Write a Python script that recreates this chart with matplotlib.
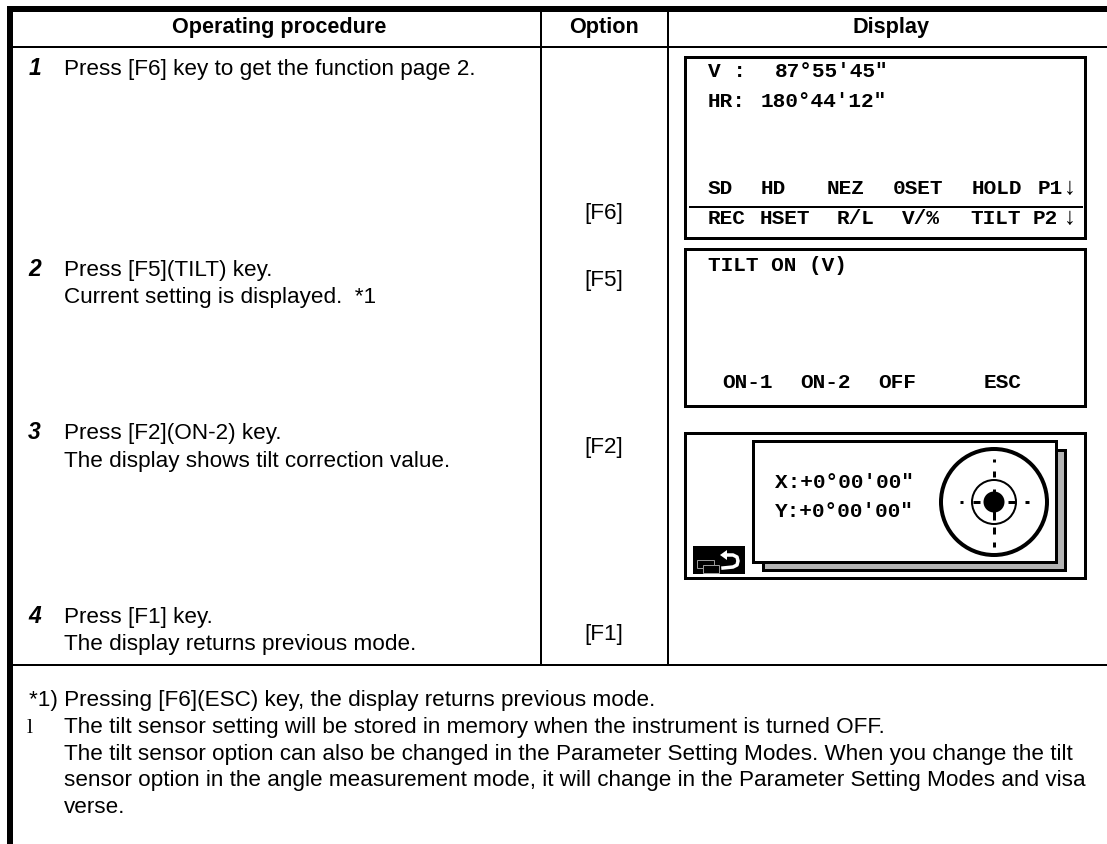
import matplotlib
matplotlib.use("Agg")
import matplotlib.pyplot as plt
from matplotlib.patches import Rectangle, Circle, Polygon

W, H = 1107, 844
SANS = "Liberation Sans"
MONO = "Liberation Mono"

headers = ["Operating procedure", "Option", "Display"]
header_x = [279, 604, 891]
step_numbers = ["1", "2", "3", "4"]
step_number_x = [29, 28, 28, 28]
step_number_y = [75, 276, 439, 623]
step_lines = [
    (64, 75, "Press [F6] key to get the function page 2."),
    (64, 276, "Press [F5](TILT) key."),
    (64, 303, "Current setting is displayed.  *1"),
    (64, 439, "Press [F2](ON-2) key."),
    (64, 467, "The display shows tilt correction value."),
    (64, 623, "Press [F1] key."),
    (64, 650, "The display returns previous mode."),
]
options = [(604, 219, "[F6]"), (604, 286, "[F5]"), (604, 453, "[F2]"), (604, 640, "[F1]")]
notes = [
    (29, 706, "*1) Pressing [F6](ESC) key, the display returns previous mode."),
    (64, 733, "The tilt sensor setting will be stored in memory when the instrument is turned OFF."),
    (64, 760, "The tilt sensor option can also be changed in the Parameter Setting Modes. When you change the tilt"),
    (64, 786, "sensor option in the angle measurement mode, it will change in the Parameter Setting Modes and visa"),
    (64, 813, "verse."),
]
screen_texts = [
    (708, 77, "V :"), (775, 77, "87°55'45\""),
    (708, 107, "HR:"), (761, 107, "180°44'12\""),
    (708, 194, "SD"), (761, 194, "HD"), (827, 194, "NEZ"), (893, 194, "0SET"), (972, 194, "HOLD"), (1038, 194, "P1"),
    (708, 224, "REC"), (760, 224, "HSET"), (837, 224, "R/L"), (902, 224, "V/%"), (970, 224, "TILT"), (1033, 224, "P2"),
    (708, 271, "TILT ON (V)"),
    (722, 388, "ON-1"), (800, 388, "ON-2"), (878, 388, "OFF"), (984, 388, "ESC"),
    (775, 488, "X:+0°00'00\""), (775, 517, "Y:+0°00'00\""),
]
arrow_texts = [(1070, 194, "↓"), (1070, 224, "↓")]
target_h_ticks = [(-34, -31), (-21, -14), (14, 21), (31, 35)]
target_v_ticks = [(-43, -40), (-31, -25), (-13, -7), (8, 18), (25, 32), (40, 45)]

fig = plt.figure(figsize=(W / 100, H / 100), dpi=100, facecolor="white")
ax = fig.add_axes([0, 0, 1, 1])
ax.set_xlim(0, W)
ax.set_ylim(H, 0)
ax.axis("off")


def rect(x0, y0, x1, y1, fc="none", ec="black", lw=0.0, z=2):
    ax.add_patch(Rectangle((x0, y0), x1 - x0, y1 - y0, facecolor=fc, edgecolor=ec, linewidth=lw, zorder=z))


def px(n):
    return n * 0.72


# table frame
rect(7, 6, 13, 844, fc="black")
rect(7, 6, 1107, 12, fc="black")
rect(13, 46, 1107, 48, fc="black")
rect(13, 664, 1107, 666, fc="black")
rect(540, 12, 542, 664, fc="black")
rect(667, 12, 669, 664, fc="black")

for x, t in zip(header_x, headers):
    ax.text(x, 33, t, family=SANS, fontsize=15.6, weight="bold", ha="center", va="baseline")
for x, y, t in zip(step_number_x, step_number_y, step_numbers):
    ax.text(x, y, t, family=SANS, fontsize=16.5, weight="bold", style="italic", ha="left", va="baseline")
for x, y, t in step_lines:
    ax.text(x, y, t, family=SANS, fontsize=16.2, ha="left", va="baseline")
for x, y, t in options:
    ax.text(x, y, t, family=SANS, fontsize=16.2, ha="center", va="baseline")
for x, y, t in notes:
    ax.text(x, y, t, family=SANS, fontsize=16.2, ha="left", va="baseline")
ax.text(27, 733, "l", family="Liberation Serif", fontsize=16, ha="left", va="baseline")

# screens
for y0, y1 in [(57, 238), (249, 406), (433, 578)]:
    rect(685, y0, 1085, y1, ec="black", lw=px(3))
rect(689, 206, 1083, 208, fc="black")
rect(763, 450, 1065, 570, fc="#b4b4b4", ec="black", lw=px(3), z=3)
rect(753, 441, 1056, 562, fc="white", ec="black", lw=px(3), z=4)

for x, y, t in screen_texts:
    ax.text(x, y, t, family=MONO, fontsize=15.2, weight="bold", ha="left", va="baseline", zorder=6)
for x, y, t in arrow_texts:
    ax.text(x, y, t, family="Liberation Serif", fontsize=17, ha="center", va="baseline", zorder=6)

# target
cx, cy = 994, 502
ax.add_patch(Circle((cx, cy), 53, fc="white", ec="black", lw=px(4), zorder=5))
ax.add_patch(Circle((cx, cy), 22, fc="white", ec="black", lw=px(2), zorder=5))
ax.add_patch(Circle((cx, cy), 10.5, fc="black", ec="none", zorder=6))
for a0, a1 in target_h_ticks:
    ax.plot([cx + a0, cx + a1], [cy, cy], color="black", lw=px(3), solid_capstyle="butt", zorder=6)
for a0, a1 in target_v_ticks:
    ax.plot([cx, cx], [cy + a0, cy + a1], color="black", lw=px(3), solid_capstyle="butt", zorder=6)

# icon
rect(693, 546, 745, 574, fc="black", z=5)
rect(697, 560, 714, 568, ec="#999999", lw=px(1), z=6)
rect(703, 565, 719, 573, fc="black", ec="#999999", lw=px(1), z=7)
ax.plot([725, 733, 737, 738, 737, 733, 723], [555, 555, 557, 561, 565, 567, 568], color="white", lw=px(3.5), zorder=7)
ax.add_patch(Polygon([[720, 555], [727, 550], [727, 560]], fc="white", ec="none", zorder=7))

fig.savefig("out.png", dpi=100, facecolor="white")
